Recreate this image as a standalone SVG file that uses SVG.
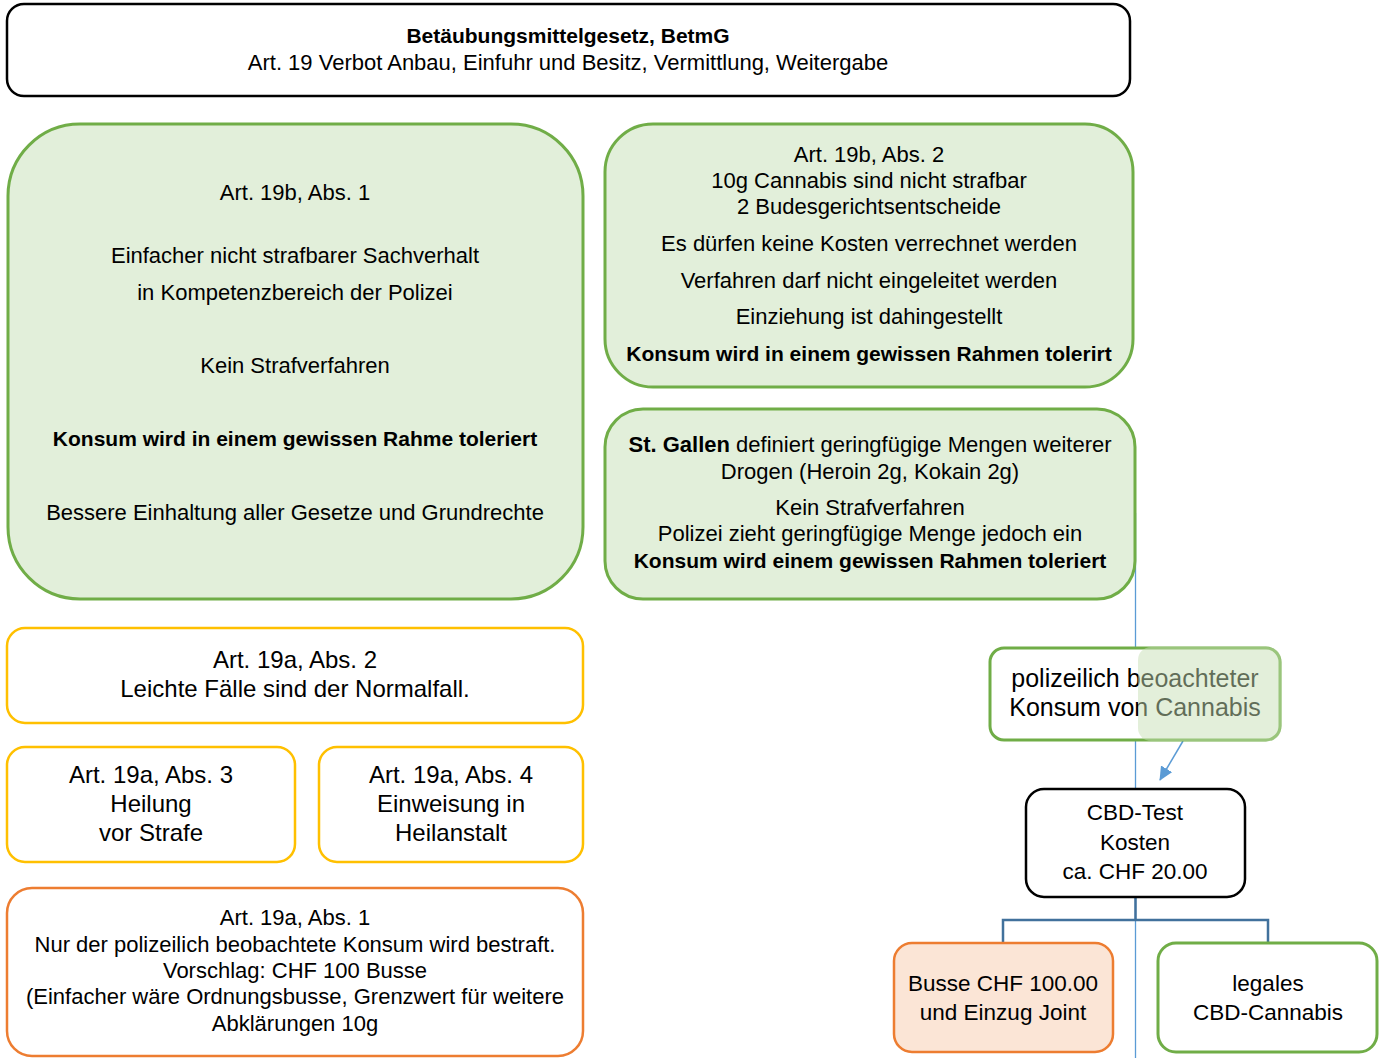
<svg xmlns="http://www.w3.org/2000/svg" width="1383" height="1058" viewBox="0 0 1383 1058">
<defs>
<style>
text{font-family:"Liberation Sans",Arial,sans-serif;fill:#000;text-anchor:middle}
.t22{font-size:22px}
.b21{font-size:21px;font-weight:bold}
.t24{font-size:24px}
.t25{font-size:25px}
.t225{font-size:22.5px}
.b{font-weight:bold}
.green{fill:#e2efda;stroke:#70ad47;stroke-width:3}
.greenw{fill:#fff;stroke:#70ad47;stroke-width:3}
.yellow{fill:#fff;stroke:#ffc000;stroke-width:2.5}
.orange{fill:#fff;stroke:#ed7d31;stroke-width:2.5}
.orangef{fill:#fbe5d6;stroke:#ed7d31;stroke-width:2.5}
.black{fill:#fff;stroke:#000;stroke-width:2.5}
.thin{stroke:#5b9bd5;stroke-width:1.3;fill:none}
.elbow{stroke:#41719c;stroke-width:2.5;fill:none}
</style>
<marker id="arr" viewBox="0 0 14 13" refX="13" refY="6.5" markerWidth="14" markerHeight="13" orient="auto" markerUnits="userSpaceOnUse">
<path d="M0,0 L14,6.5 L0,13 z" fill="#5b9bd5"/>
</marker>
</defs>

<g id="connectors">
<line class="thin" x1="1135.5" y1="513" x2="1135.5" y2="1058"/>
<polyline class="elbow" points="1135.5,897 1135.5,920"/>
<polyline class="elbow" points="1003,943 1003,920 1268,920 1268,943"/>
<line stroke="#5b9bd5" stroke-width="1.5" x1="1183" y1="741" x2="1160" y2="780" marker-end="url(#arr)"/>
</g>

<g id="betmg">
<rect class="black" x="7" y="4" width="1123" height="92" rx="17"/>
<text class="b21" x="568" y="43">Betäubungsmittelgesetz, BetmG</text>
<text class="t22" x="568" y="70">Art. 19 Verbot Anbau, Einfuhr und Besitz, Vermittlung, Weitergabe</text>
</g>

<g id="art19b-abs1">
<rect class="green" x="8" y="124" width="575" height="475" rx="72"/>
<text class="t22" x="295" y="200">Art. 19b, Abs. 1</text>
<text class="t22" x="295" y="263">Einfacher nicht strafbarer Sachverhalt</text>
<text class="t22" x="295" y="300">in Kompetenzbereich der Polizei</text>
<text class="t22" x="295" y="373">Kein Strafverfahren</text>
<text class="b21" x="295" y="446">Konsum wird in einem gewissen Rahme toleriert</text>
<text class="t22" x="295" y="520">Bessere Einhaltung aller Gesetze und Grundrechte</text>
</g>

<g id="art19b-abs2">
<rect class="green" x="605" y="124" width="528" height="263" rx="48"/>
<text class="t22" x="869" y="162">Art. 19b, Abs. 2</text>
<text class="t22" x="869" y="188">10g Cannabis sind nicht strafbar</text>
<text class="t22" x="869" y="214">2 Budesgerichtsentscheide</text>
<text class="t22" x="869" y="251">Es dürfen keine Kosten verrechnet werden</text>
<text class="t22" x="869" y="288">Verfahren darf nicht eingeleitet werden</text>
<text class="t22" x="869" y="324">Einziehung ist dahingestellt</text>
<text class="b21" x="869" y="361">Konsum wird in einem gewissen Rahmen tolerirt</text>
</g>

<g id="st-gallen">
<rect class="green" x="605" y="409" width="530" height="190" rx="38"/>
<text class="t22" x="870" y="452"><tspan class="b">St. Gallen</tspan> definiert geringfügige Mengen weiterer</text>
<text class="t22" x="870" y="479">Drogen (Heroin 2g, Kokain 2g)</text>
<text class="t22" x="870" y="515">Kein Strafverfahren</text>
<text class="t22" x="870" y="541">Polizei zieht geringfügige Menge jedoch ein</text>
<text class="b21" x="870" y="568">Konsum wird einem gewissen Rahmen toleriert</text>
</g>

<g id="art19a-abs2">
<rect class="yellow" x="7" y="628" width="576" height="95" rx="18"/>
<text class="t24" x="295" y="668">Art. 19a, Abs. 2</text>
<text class="t24" x="295" y="697">Leichte Fälle sind der Normalfall.</text>
</g>

<g id="art19a-abs3">
<rect class="yellow" x="7" y="747" width="288" height="115" rx="18"/>
<text class="t24" x="151" y="783">Art. 19a, Abs. 3</text>
<text class="t24" x="151" y="812">Heilung</text>
<text class="t24" x="151" y="841">vor Strafe</text>
</g>

<g id="art19a-abs4">
<rect class="yellow" x="319" y="747" width="264" height="115" rx="18"/>
<text class="t24" x="451" y="783">Art. 19a, Abs. 4</text>
<text class="t24" x="451" y="812">Einweisung in</text>
<text class="t24" x="451" y="841">Heilanstalt</text>
</g>

<g id="art19a-abs1">
<rect class="orange" x="7" y="888" width="576" height="168" rx="25"/>
<text class="t22" x="295" y="925">Art. 19a, Abs. 1</text>
<text class="t22" x="295" y="952">Nur der polizeilich beobachtete Konsum wird bestraft.</text>
<text class="t22" x="295" y="978">Vorschlag: CHF 100 Busse</text>
<text class="t22" x="295" y="1004">(Einfacher wäre Ordnungsbusse, Grenzwert für weitere</text>
<text class="t22" x="295" y="1031">Abklärungen 10g</text>
</g>

<g id="beobachtet">
<rect class="greenw" x="990" y="648" width="290" height="92" rx="14"/>
<text class="t25" x="1135" y="687">polizeilich beoachteter</text>
<text class="t25" x="1135" y="716">Konsum von Cannabis</text>
<rect x="1138" y="647" width="143" height="94" rx="13" fill="#c5deb3" fill-opacity="0.49"/>
</g>

<g id="cbd-test">
<rect class="black" x="1026" y="789" width="219" height="108" rx="18"/>
<text class="t225" x="1135" y="820">CBD-Test</text>
<text class="t225" x="1135" y="850">Kosten</text>
<text class="t225" x="1135" y="879">ca. CHF 20.00</text>
</g>

<g id="busse">
<rect class="orangef" x="894" y="943" width="219" height="109" rx="18"/>
<text class="t225" x="1003" y="991">Busse CHF 100.00</text>
<text class="t225" x="1003" y="1020">und Einzug Joint</text>
</g>

<g id="legal-cbd">
<rect class="greenw" x="1158" y="943" width="219" height="109" rx="18"/>
<text class="t225" x="1268" y="991">legales</text>
<text class="t225" x="1268" y="1020">CBD-Cannabis</text>
</g>
</svg>
